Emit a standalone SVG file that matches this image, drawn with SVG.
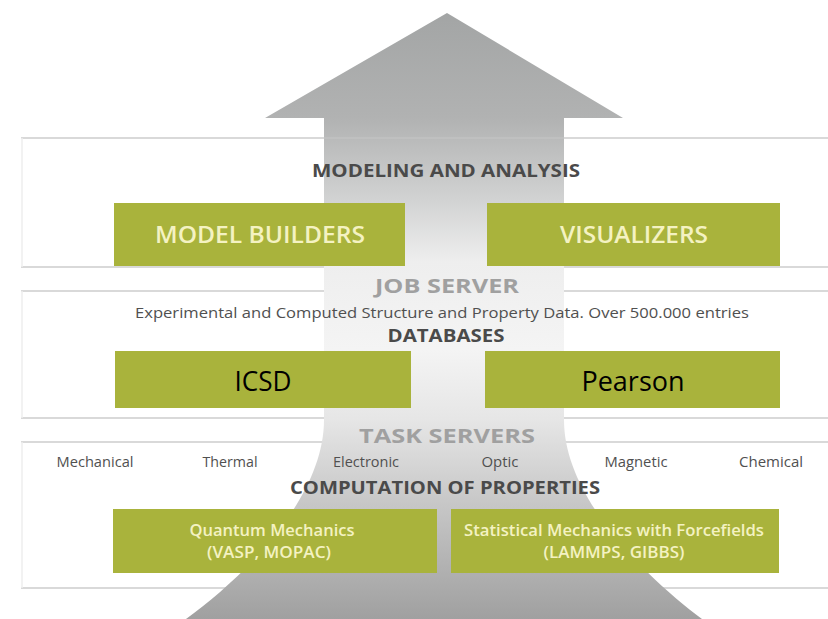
<svg xmlns="http://www.w3.org/2000/svg" width="828" height="619" viewBox="0 0 828 619">
<defs>
<linearGradient id="arrowGrad" gradientUnits="userSpaceOnUse" x1="0" y1="13" x2="0" y2="619">
<stop offset="0" stop-color="#a3a5a5"/>
<stop offset="0.173" stop-color="#b1b2b2"/>
<stop offset="0.31" stop-color="#d2d3d3"/>
<stop offset="0.41" stop-color="#eeeeee"/>
<stop offset="0.556" stop-color="#f4f4f4"/>
<stop offset="0.67" stop-color="#e6e6e6"/>
<stop offset="0.80" stop-color="#c9c9c9"/>
<stop offset="1" stop-color="#a0a0a0"/>
</linearGradient>
<style>
.hl{stroke:#d9d9d9;stroke-width:2}
.vl{stroke:#eeeeee;stroke-width:1.5}
.gbox{fill:#a9b33c}
.head{font-family:"Open Sans","DejaVu Sans",sans-serif;font-weight:bold;fill:#4a4a4a;text-anchor:middle}
.srv{font-family:"Open Sans","DejaVu Sans",sans-serif;font-weight:bold;fill:#a0a0a0;text-anchor:middle}
.small{font-family:"Open Sans","DejaVu Sans",sans-serif;fill:#505050;text-anchor:middle}
.boxt{font-family:"Open Sans","DejaVu Sans",sans-serif;font-weight:600;fill:#f4f2c2;text-anchor:middle}
.dbt{font-family:"Open Sans","Liberation Sans",sans-serif;fill:#000000;text-anchor:middle}
</style>
</defs>
<rect width="828" height="619" fill="#ffffff"/>
<g id="bands">
<line class="hl" x1="21" y1="138" x2="828" y2="138"/>
<line class="hl" x1="21" y1="267" x2="828" y2="267"/>
<line class="hl" x1="21" y1="291" x2="828" y2="291"/>
<line class="hl" x1="21" y1="418" x2="828" y2="418"/>
<line class="hl" x1="21" y1="442" x2="828" y2="442"/>
<line class="hl" x1="21" y1="588" x2="828" y2="588"/>
<line class="vl" x1="22" y1="138" x2="22" y2="267"/>
<line class="vl" x1="22" y1="291" x2="22" y2="418"/>
<line class="vl" x1="22" y1="442" x2="22" y2="588"/>
</g>
<g id="arrow">
<path d="M447,13 L623,118 L564,118 L564,420 C564,500 650,580 702,619 L186,619 C240,580 324,500 324,420 L324,118 L265,118 Z" fill="url(#arrowGrad)"/>
<line x1="324" y1="138" x2="564" y2="138" stroke="#c4c4c4" stroke-width="2" opacity="0.6"/>
</g>
<g id="modeling">
<text class="head" x="446" y="177" font-size="17" textLength="268" lengthAdjust="spacingAndGlyphs">MODELING AND ANALYSIS</text>
</g>
<g id="model-builders">
<rect class="gbox" x="114" y="203" width="291" height="63"/>
<text class="boxt" x="260" y="243" font-size="23" textLength="210" lengthAdjust="spacingAndGlyphs">MODEL BUILDERS</text>
</g>
<g id="visualizers">
<rect class="gbox" x="487" y="203" width="293" height="63"/>
<text class="boxt" x="634" y="243" font-size="23" textLength="148" lengthAdjust="spacingAndGlyphs">VISUALIZERS</text>
</g>
<g id="job-server">
<text class="srv" x="447" y="293" font-size="20" textLength="144" lengthAdjust="spacingAndGlyphs">JOB SERVER</text>
</g>
<g id="databases">
<text class="small" x="442" y="318" font-size="14" textLength="614" lengthAdjust="spacingAndGlyphs">Experimental and Computed Structure and Property Data. Over 500.000 entries</text>
<text class="head" x="446" y="342" font-size="17" textLength="117" lengthAdjust="spacingAndGlyphs">DATABASES</text>
</g>
<g id="icsd">
<rect class="gbox" x="115" y="351" width="296" height="57"/>
<text class="dbt" x="263" y="391" font-size="27" textLength="57" lengthAdjust="spacingAndGlyphs">ICSD</text>
</g>
<g id="pearson">
<rect class="gbox" x="485" y="351" width="295" height="57"/>
<text class="dbt" x="633" y="391" font-size="27" textLength="103" lengthAdjust="spacingAndGlyphs">Pearson</text>
</g>
<g id="task-servers">
<text class="srv" x="447" y="443" font-size="20" textLength="176" lengthAdjust="spacingAndGlyphs">TASK SERVERS</text>
</g>
<g id="properties">
<text class="small" x="95" y="467" font-size="14" textLength="77" lengthAdjust="spacingAndGlyphs">Mechanical</text>
<text class="small" x="230" y="467" font-size="14" textLength="55" lengthAdjust="spacingAndGlyphs">Thermal</text>
<text class="small" x="366" y="467" font-size="14" textLength="66" lengthAdjust="spacingAndGlyphs">Electronic</text>
<text class="small" x="500" y="467" font-size="14" textLength="37" lengthAdjust="spacingAndGlyphs">Optic</text>
<text class="small" x="636" y="467" font-size="14" textLength="63" lengthAdjust="spacingAndGlyphs">Magnetic</text>
<text class="small" x="771" y="467" font-size="14" textLength="64" lengthAdjust="spacingAndGlyphs">Chemical</text>
<text class="head" x="445" y="494" font-size="18" textLength="310" lengthAdjust="spacingAndGlyphs">COMPUTATION OF PROPERTIES</text>
</g>
<g id="quantum">
<rect class="gbox" x="113" y="509" width="324" height="64"/>
<text class="boxt" x="272" y="536" font-size="17" textLength="165" lengthAdjust="spacingAndGlyphs">Quantum Mechanics</text>
<text class="boxt" x="269" y="558" font-size="17" textLength="124" lengthAdjust="spacingAndGlyphs">(VASP, MOPAC)</text>
</g>
<g id="statistical">
<rect class="gbox" x="451" y="509" width="328" height="64"/>
<text class="boxt" x="614" y="536" font-size="17" textLength="300" lengthAdjust="spacingAndGlyphs">Statistical Mechanics with Forcefields</text>
<text class="boxt" x="614" y="558" font-size="17" textLength="141" lengthAdjust="spacingAndGlyphs">(LAMMPS, GIBBS)</text>
</g>
<g id="connectors"/>
</svg>
